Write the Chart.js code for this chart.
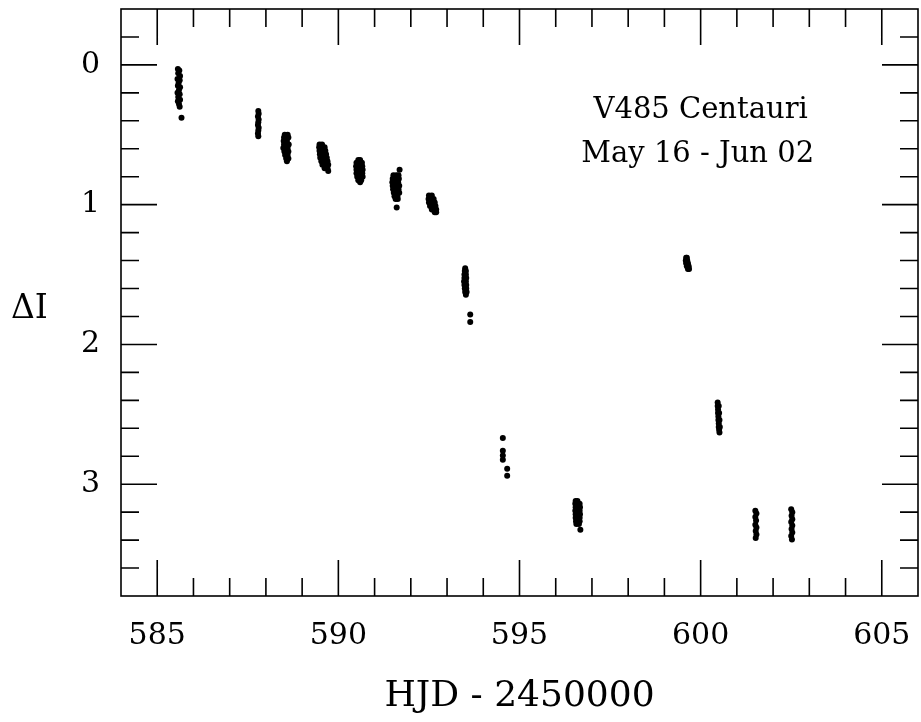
<!DOCTYPE html>
<html>
<head>
<meta charset="utf-8">
<title>V485 Centauri</title>
<script src="https://cdn.jsdelivr.net/npm/chart.js@4.4.1/dist/chart.umd.min.js"></script>
<style>
  html, body { margin: 0; padding: 0; background: #fff; }
  canvas { display: block; }
</style>
</head>
<body>
<canvas id="lc" width="921" height="722" style="width:921px;height:722px"></canvas>
<script>
// Light curve, one line per night (HJD - 2450000, Delta I)
const hjd = [
    585.57, 585.61, 585.58, 585.63, 585.56, 585.62, 585.59, 585.57, 585.63, 585.60, 585.56, 585.62, 585.58, 585.63, 585.57, 585.60, 585.62, 585.67,
    587.79, 587.80, 587.78, 587.80, 587.79, 587.78, 587.80, 587.79, 587.78, 587.79,
    588.52, 588.60, 588.50, 588.62, 588.49, 588.58, 588.50, 588.63, 588.48, 588.60, 588.51, 588.62, 588.53, 588.60, 588.56, 588.62, 588.58,
    589.48, 589.55, 589.47, 589.56, 589.62, 589.48, 589.57, 589.64, 589.49, 589.58, 589.66, 589.50, 589.60, 589.68, 589.53, 589.62, 589.70, 589.56, 589.65, 589.72, 589.62, 589.70, 589.72,
    590.55, 590.60, 590.50, 590.58, 590.65, 590.49, 590.57, 590.66, 590.50, 590.59, 590.67, 590.50, 590.58, 590.66, 590.52, 590.60, 590.67, 590.55, 590.63, 590.60,
    591.69, 591.52, 591.60, 591.66, 591.50, 591.58, 591.67, 591.49, 591.57, 591.65, 591.50, 591.59, 591.68, 591.51, 591.58, 591.66, 591.53, 591.61, 591.68, 591.55, 591.63, 591.58, 591.64, 591.61,
    592.50, 592.58, 592.49, 592.57, 592.63, 592.50, 592.59, 592.66, 592.53, 592.62, 592.68, 592.58, 592.66, 592.70, 592.66, 592.70,
    593.50, 593.49, 593.52, 593.48, 593.52, 593.48, 593.53, 593.47, 593.52, 593.48, 593.53, 593.49, 593.53, 593.50, 593.54, 593.52, 593.64, 593.64,
    594.54, 594.54, 594.54, 594.54, 594.66, 594.66,
    596.55, 596.60, 596.54, 596.62, 596.66, 596.55, 596.61, 596.67, 596.54, 596.60, 596.66, 596.55, 596.62, 596.67, 596.55, 596.61, 596.66, 596.56, 596.62, 596.66, 596.57, 596.64, 596.68,
    599.60, 599.62, 599.59, 599.63, 599.60, 599.65, 599.62, 599.67, 599.65, 599.68,
    600.47, 600.47, 600.50, 600.48, 600.48, 600.51, 600.49, 600.49, 600.52, 600.50, 600.50, 600.53, 600.51, 600.52,
    601.51, 601.54, 601.51, 601.53, 601.51, 601.54, 601.52, 601.54, 601.52,
    602.50, 602.53, 602.51, 602.53, 602.50, 602.53, 602.51, 602.53, 602.50, 602.52
];
const deltaI = [
    0.03, 0.04, 0.06, 0.08, 0.10, 0.11, 0.13, 0.15, 0.16, 0.18, 0.20, 0.21, 0.23, 0.25, 0.26, 0.28, 0.30, 0.378,
    0.33, 0.35, 0.37, 0.39, 0.41, 0.43, 0.45, 0.47, 0.49, 0.51,
    0.50, 0.50, 0.52, 0.52, 0.545, 0.545, 0.57, 0.57, 0.595, 0.595, 0.62, 0.62, 0.645, 0.645, 0.67, 0.67, 0.69,
    0.57, 0.57, 0.59, 0.59, 0.59, 0.615, 0.615, 0.615, 0.64, 0.64, 0.64, 0.665, 0.665, 0.665, 0.69, 0.69, 0.69, 0.715, 0.715, 0.715, 0.74, 0.74, 0.76,
    0.68, 0.68, 0.70, 0.70, 0.70, 0.725, 0.725, 0.725, 0.75, 0.75, 0.75, 0.775, 0.775, 0.775, 0.80, 0.80, 0.80, 0.825, 0.825, 0.84,
    0.75, 0.79, 0.79, 0.79, 0.815, 0.815, 0.815, 0.84, 0.84, 0.84, 0.865, 0.865, 0.865, 0.89, 0.89, 0.89, 0.915, 0.915, 0.915, 0.94, 0.94, 0.96, 0.96, 1.02,
    0.935, 0.935, 0.96, 0.96, 0.96, 0.985, 0.985, 0.985, 1.01, 1.01, 1.01, 1.035, 1.035, 1.035, 1.055, 1.055,
    1.455, 1.475, 1.475, 1.50, 1.50, 1.525, 1.525, 1.55, 1.55, 1.575, 1.575, 1.60, 1.60, 1.625, 1.625, 1.645, 1.785, 1.84,
    2.67, 2.76, 2.795, 2.825, 2.89, 2.94,
    3.12, 3.12, 3.14, 3.14, 3.14, 3.165, 3.165, 3.165, 3.19, 3.19, 3.19, 3.215, 3.215, 3.215, 3.24, 3.24, 3.24, 3.265, 3.265, 3.265, 3.285, 3.285, 3.326,
    1.38, 1.38, 1.40, 1.40, 1.42, 1.42, 1.44, 1.44, 1.46, 1.46,
    2.415, 2.44, 2.44, 2.465, 2.49, 2.49, 2.515, 2.54, 2.54, 2.565, 2.59, 2.59, 2.61, 2.63,
    3.19, 3.21, 3.235, 3.26, 3.29, 3.31, 3.335, 3.36, 3.385,
    3.18, 3.20, 3.225, 3.25, 3.27, 3.295, 3.32, 3.345, 3.37, 3.395
];

// Axes
const xRange = [584, 606];
const yRange = [-0.4, 3.8];
const xMajorTicks = [585, 590, 595, 600, 605];
const xMinorTicks = [585, 586, 587, 588, 589, 590, 591, 592, 593, 594, 595, 596, 597, 598, 599, 600, 601, 602, 603, 604, 605];
const yMajorTicks = [0, 1, 2, 3];
const yMinorTicks = [-0.2, 0, 0.2, 0.4, 0.6, 0.8, 1, 1.2, 1.4, 1.6, 1.8, 2, 2.2, 2.4, 2.6, 2.8, 3, 3.2, 3.4, 3.6];

const starLabel = ['V485 Centauri', 'May 16 - Jun 02'];
const FONT = '"DejaVu Serif", "Liberation Serif", serif';

// Box frame with inward ticks on all four sides, plus the free text
const boxFrame = {
    id: 'boxFrame',
    afterDraw(chart) {
        const { ctx, chartArea: a, scales: { x, y } } = chart;
        ctx.save();
        ctx.strokeStyle = '#000';
        ctx.lineWidth = 1.6;
        ctx.strokeRect(a.left, a.top, a.right - a.left, a.bottom - a.top);

        ctx.beginPath();
        xMinorTicks.forEach(v => {
            const px = x.getPixelForValue(v);
            const len = xMajorTicks.includes(v) ? 36 : 18;
            ctx.moveTo(px, a.bottom); ctx.lineTo(px, a.bottom - len);
            ctx.moveTo(px, a.top); ctx.lineTo(px, a.top + len);
        });
        yMinorTicks.forEach(v => {
            const py = y.getPixelForValue(v);
            const len = yMajorTicks.includes(v) ? 36 : 18;
            ctx.moveTo(a.left, py); ctx.lineTo(a.left + len, py);
            ctx.moveTo(a.right, py); ctx.lineTo(a.right - len, py);
        });
        ctx.stroke();

        ctx.fillStyle = '#000';
        ctx.textBaseline = 'alphabetic';
        ctx.font = '33px ' + FONT;
        ctx.textAlign = 'left';
        ctx.fillText('ΔI', 11, 318);

        ctx.font = '29px ' + FONT;
        ctx.textAlign = 'center';
        ctx.fillText(starLabel[0], x.getPixelForValue(600.0), y.getPixelForValue(0.383));
        ctx.fillText(starLabel[1], x.getPixelForValue(599.92), y.getPixelForValue(0.694));
        ctx.restore();
    }
};

new Chart(document.getElementById('lc').getContext('2d'), {
    type: 'scatter',
    data: {
        datasets: [{
            label: 'V485 Cen',
            data: hjd.map((t, i) => ({ x: t, y: deltaI[i] })),
            backgroundColor: '#000',
            borderWidth: 0,
            pointRadius: 3,
            pointHoverRadius: 3
        }]
    },
    options: {
        responsive: false,
        devicePixelRatio: 1,
        animation: false,
        layout: { padding: { top: 9, right: 2, left: 0, bottom: 0 } },
        plugins: { legend: { display: false }, tooltip: { enabled: false } },
        scales: {
            x: {
                type: 'linear',
                min: xRange[0],
                max: xRange[1],
                grid: { display: false, drawTicks: false },
                border: { display: false },
                afterBuildTicks: s => { s.ticks = xMajorTicks.map(v => ({ value: v })); },
                afterFit: s => {
                    s.height = 126;
                    s.paddingLeft = 0; s.paddingRight = 0;
                },
                ticks: {
                    color: '#000',
                    padding: 22,
                    maxRotation: 0,
                    font: { family: FONT, size: 30 }
                },
                title: {
                    display: true,
                    text: 'HJD - 2450000',
                    color: '#000',
                    font: { family: FONT, size: 36 },
                    padding: { top: 0, bottom: 4 }
                }
            },
            y: {
                type: 'linear',
                reverse: true,
                min: yRange[0],
                max: yRange[1],
                grid: { display: false, drawTicks: false },
                border: { display: false },
                afterBuildTicks: s => { s.ticks = yMajorTicks.map(v => ({ value: v })); },
                afterFit: s => {
                    s.width = 121;
                    s.paddingTop = 0; s.paddingBottom = 0;
                },
                ticks: {
                    color: '#000',
                    padding: 21,
                    font: { family: FONT, size: 30 }
                }
            }
        }
    },
    plugins: [boxFrame]
});
</script>
</body>
</html>
